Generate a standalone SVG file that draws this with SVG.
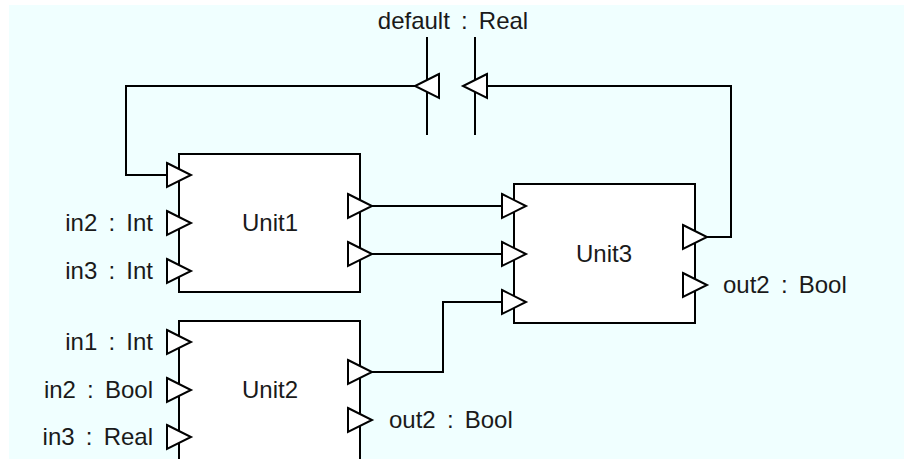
<svg xmlns="http://www.w3.org/2000/svg" xmlns:xlink="http://www.w3.org/1999/xlink" width="904" height="459" viewBox="0 0 904 459">
  <style>
    .box { fill: #ffffff; stroke: #000000; stroke-width: 2; }
    .wire { fill: none; stroke: #000000; stroke-width: 2; }
    .port { fill: #ffffff; stroke: #000000; stroke-width: 2; stroke-linejoin: miter; }
    text { font-family: "Liberation Sans", Arial, sans-serif; font-size: 24px; fill: #1a1a1a; word-spacing: 4.5px; }
    .end { text-anchor: end; }
    .mid { text-anchor: middle; }
  </style>
  <defs>
    <path id="pr" class="port" d="M-12,-12 L12,0 L-12,12 Z"/>
    <path id="pl" class="port" d="M12,-12 L-12,0 L12,12 Z"/>
  </defs>
  <rect x="9" y="5" width="895" height="454" fill="#f0ffff"/>

  <g id="connectors">
    <polyline class="wire" points="415,86 126,86 126,175 168,175"/>
    <line class="wire" x1="372" y1="206" x2="502" y2="206"/>
    <line class="wire" x1="372" y1="254" x2="502" y2="254"/>
    <polyline class="wire" points="372,372 443,372 443,302 502,302"/>
    <polyline class="wire" points="707,237 731,237 731,86 487,86"/>
  </g>

  <g id="default">
    <text class="mid" x="453" y="29">default : Real</text>
    <line class="wire" x1="427" y1="37" x2="427" y2="135"/>
    <line class="wire" x1="475" y1="37" x2="475" y2="135"/>
    <use xlink:href="#pl" x="427" y="86"/>
    <use xlink:href="#pl" x="475" y="86"/>
  </g>

  <g id="unit1">
    <rect class="box" x="179" y="154" width="181" height="138"/>
    <text class="mid" x="270" y="231">Unit1</text>
    <use xlink:href="#pr" x="179" y="175"/>
    <use xlink:href="#pr" x="179" y="223"/>
    <use xlink:href="#pr" x="179" y="271"/>
    <use xlink:href="#pr" x="360" y="206"/>
    <use xlink:href="#pr" x="360" y="254"/>
    <text class="end" x="153" y="231">in2 : Int</text>
    <text class="end" x="153" y="279">in3 : Int</text>
  </g>

  <g id="unit2">
    <rect class="box" x="179" y="321" width="181" height="150"/>
    <text class="mid" x="270" y="398">Unit2</text>
    <use xlink:href="#pr" x="179" y="342"/>
    <use xlink:href="#pr" x="179" y="390"/>
    <use xlink:href="#pr" x="179" y="437"/>
    <use xlink:href="#pr" x="360" y="372"/>
    <use xlink:href="#pr" x="360" y="420"/>
    <text class="end" x="153" y="350">in1 : Int</text>
    <text class="end" x="153" y="398">in2 : Bool</text>
    <text class="end" x="153" y="445">in3 : Real</text>
    <text x="389" y="428">out2 : Bool</text>
  </g>

  <g id="unit3">
    <rect class="box" x="514" y="184" width="181" height="139"/>
    <text class="mid" x="604" y="262">Unit3</text>
    <use xlink:href="#pr" x="514" y="206"/>
    <use xlink:href="#pr" x="514" y="254"/>
    <use xlink:href="#pr" x="514" y="302"/>
    <use xlink:href="#pr" x="695" y="237"/>
    <use xlink:href="#pr" x="695" y="285"/>
    <text x="723" y="293">out2 : Bool</text>
  </g>
</svg>
